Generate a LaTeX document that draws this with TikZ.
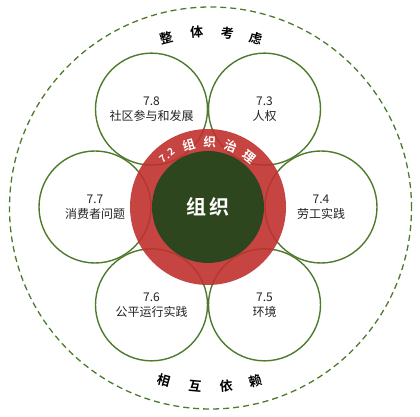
\documentclass[tikz,border=0pt]{standalone}
\usepackage{fontspec}
\usetikzlibrary{calc}
\newfontfamily\cjk{Noto Sans CJK SC}
\newfontfamily\cjkb{Noto Sans CJK SC Bold}
\definecolor{petalgreen}{RGB}{78,122,44}
\definecolor{ringred}{RGB}{192,48,46}
\definecolor{coregreen}{RGB}{46,70,30}
\definecolor{txt}{RGB}{35,35,35}
\begin{document}
\begin{tikzpicture}[x=1pt,y=1pt,
  petal/.style={circle,draw=petalgreen,line width=1.4pt,minimum size=112pt,inner sep=0pt,
    align=center,font=\cjk\fontsize{12}{15}\selectfont,text=txt},
  ringchar/.style={font=\cjkb\fontsize{12.5}{12.5}\selectfont,text=white,inner sep=0pt},
  outerchar/.style={font=\cjkb\fontsize{13}{13}\selectfont,text=black,inner sep=0pt}]
\useasboundingbox (0,0) rectangle (420,417);
\coordinate (O) at (208,210);
\coordinate (OO) at (210.5,209);
% outer dashed circle
\draw[petalgreen,line width=1.3pt,dash pattern=on 6pt off 4pt] (OO) circle (201);
% petals
\node[petal] (p74) at ($(O)+(0:113)$) {7.4\\劳工实践};
\node[petal] (p73) at ($(O)+(60:113)$) {7.3\\人权};
\node[petal] (p78) at ($(O)+(120:113)$) {7.8\\社区参与和发展};
\node[petal] (p77) at ($(O)+(180:113)$) {7.7\\消费者问题};
\node[petal] (p76) at ($(O)+(240:113)$) {7.6\\公平运行实践};
\node[petal] (p75) at ($(O)+(300:113)$) {7.5\\环境};
% ring and core
\node[circle,fill=ringred,fill opacity=0.9,minimum size=156pt,inner sep=0pt] (ring) at (O) {};
\node[circle,fill=coregreen,minimum size=112pt,inner sep=0pt,
  font=\cjkb\fontsize{20}{20}\selectfont,text=white] (core) at (O) {组\hspace{3pt}织};
% ring text
\node[ringchar,font=\cjkb\fontsize{10}{10}\selectfont,rotate=38] (r1) at ($(O)+(128.5:66)$) {7\kern0.6pt.\kern0.6pt2};
\foreach \a/\c [count=\i from 2] in {107/组,88.5/织,69.5/治,50.5/理}{
  \node[ringchar,rotate=\a-90] (r\i) at ($(O)+(\a:65)$) {\c};
}
% outer text
\foreach \a/\c [count=\i] in {104.5/整,94.5/体,84.5/考,75/虑}{
  \node[outerchar,rotate=\a-90] (t\i) at ($(OO)+(\a:176)$) {\c};
}
\foreach \a/\c [count=\i] in {-105/相,-95/互,-85/依,-75.5/赖}{
  \node[outerchar,rotate=\a+90] (b\i) at ($(OO)+(\a:179)$) {\c};
}
\end{tikzpicture}
\end{document}
